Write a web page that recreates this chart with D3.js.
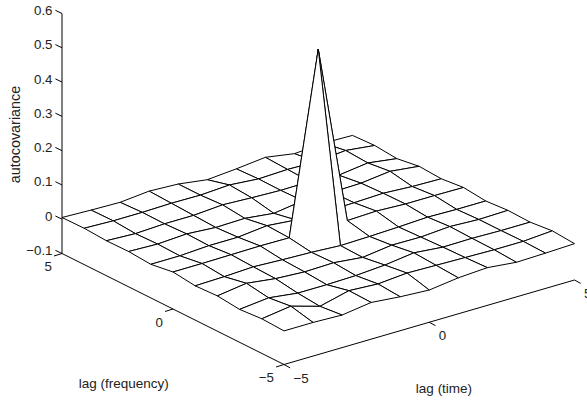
<!DOCTYPE html>
<html>
<head>
<meta charset="utf-8">
<script src="https://cdn.jsdelivr.net/npm/d3@7"></script>
<style>
  html, body { margin: 0; padding: 0; background: #fff; overflow: hidden; }
  text { font-family: "Liberation Sans", Arial, sans-serif; fill: #222; }
</style>
</head>
<body>
<svg id="chart" width="587" height="403"></svg>
<script>
// lags on both ground axes
const lagTime = [-5, -4, -3, -2, -1, 0, 1, 2, 3, 4, 5];
const lagFreq = [-5, -4, -3, -2, -1, 0, 1, 2, 3, 4, 5];

// one row per frequency lag
const covFreqM5 = [-0.002, -0.002, -0.005, 0.007, -0.001, -0.006, 0.005, 0.01, 0.001, 0.003, 0.006];
const covFreqM4 = [0.001, 0.013, -0.012, 0.009, 0.004, 0.011, 0.009, 0.007, 0.005, 0.005, 0.011];
const covFreqM3 = [-0.004, 0.005, -0.006, -0.006, -0.004, 0.002, 0.013, 0.005, 0.006, 0.004, 0.004];
const covFreqM2 = [0.003, 0.015, 0.004, -0.001, 0.001, -0.008, 0.003, 0.002, 0.008, 0.004, 0.006];
const covFreqM1 = [0, 0.002, 0.006, 0.002, -0.001, -0.006, -0.004, -0.001, 0.003, 0.001, 0.001];
const covFreq0 = [0.008, 0.008, 0.009, 0.01, 0.009, 0.535, 0.01, 0.013, 0.009, 0.009, 0.008];
const covFreqP1 = [-0.002, -0.002, 0.003, 0.003, 0.012, 0.004, 0.003, 0.005, 0.008, 0.003, 0.001];
const covFreqP2 = [0.003, 0, 0.005, -0.001, 0.001, -0.009, 0.003, 0.003, 0.005, 0.015, 0.005];
const covFreqP3 = [0.002, -0.002, 0.002, 0.002, 0.008, 0.004, 0.001, 0.002, -0.004, 0.007, -0.005];
const covFreqP4 = [0.006, 0.003, 0.003, 0.005, 0.004, 0.009, 0.002, 0.005, 0.003, 0.011, 0.001];
const covFreqP5 = [0.005, 0.002, 0, 0.008, 0.004, -0.008, -0.001, 0.008, -0.006, 0, -0.002];
const autocov = [covFreqM5, covFreqM4, covFreqM3, covFreqM2, covFreqM1, covFreq0,
                 covFreqP1, covFreqP2, covFreqP3, covFreqP4, covFreqP5];

const zTicks = [-0.1, 0, 0.1, 0.2, 0.3, 0.4, 0.5, 0.6];
const lagTicks = [-5, 0, 5];

const svg = d3.select("#chart");

// oblique view: each data axis contributes its own screen offset
const ORIGIN = [284, 364.5];
const tX = d3.scaleLinear().domain([-5, 5]).range([0, 290.5]);
const tY = d3.scaleLinear().domain([-5, 5]).range([0, -84.5]);
const fX = d3.scaleLinear().domain([-5, 5]).range([0, -222]);
const fY = d3.scaleLinear().domain([-5, 5]).range([0, -111]);
const zY = d3.scaleLinear().domain([-0.1, 0.6]).range([0, -240]);

const project = (f, t, z) => [
  ORIGIN[0] + tX(t) + fX(f),
  ORIGIN[1] + tY(t) + fY(f) + zY(z),
];

const fmt = (v) => String(v).replace("-", "\u2212");

// painter's order: back corner first so white patches hide what is behind
const patches = [];
for (let i = lagFreq.length - 2; i >= 0; i--) {
  for (let j = lagTime.length - 2; j >= 0; j--) {
    patches.push([
      project(lagFreq[i], lagTime[j], autocov[i][j]),
      project(lagFreq[i], lagTime[j + 1], autocov[i][j + 1]),
      project(lagFreq[i + 1], lagTime[j + 1], autocov[i + 1][j + 1]),
      project(lagFreq[i + 1], lagTime[j], autocov[i + 1][j]),
    ]);
  }
}

// Axes
const axes = svg.append("g").attr("stroke", "#000").attr("fill", "none").attr("stroke-width", 1);
const line = d3.line();
axes.append("path")
  .attr("d", line([project(5, -5, -0.1), project(5, -5, 0.6)]));
axes.append("path")
  .attr("d", line([project(5, -5, -0.1), project(-5, -5, -0.1), project(-5, 5, -0.1)]));

// z ticks lean along the frequency axis, ground ticks along the other one
const zTick = [-6.6, -3.2];
const fTick = [-8, 2.5];
const tTick = [6.2, 3.4];

zTicks.forEach((z) => {
  const p = project(5, -5, z);
  axes.append("path")
    .attr("d", line([p, [p[0] + zTick[0], p[1] + zTick[1]]]));
  svg.append("text")
    .attr("x", 52.5).attr("y", p[1] + 1.5)
    .attr("text-anchor", "end").attr("font-size", 13.3)
    .text(fmt(z));
});

lagTicks.forEach((f) => {
  const p = project(f, -5, -0.1);
  axes.append("path")
    .attr("d", line([p, [p[0] + fTick[0], p[1] + fTick[1]]]));
  svg.append("text")
    .attr("x", p[0] - 10).attr("y", p[1] + 17.5)
    .attr("text-anchor", "end").attr("font-size", 13.3)
    .text(fmt(f));
});

lagTicks.forEach((t) => {
  const p = project(-5, t, -0.1);
  axes.append("path")
    .attr("d", line([p, [p[0] + tTick[0], p[1] + tTick[1]]]));
  svg.append("text")
    .attr("x", p[0] + 9.5).attr("y", p[1] + 18)
    .attr("font-size", 13.3)
    .text(fmt(t));
});

// Surface
svg.append("g")
  .selectAll("path")
  .data(patches)
  .join("path")
  .attr("d", (d) => line(d) + "Z")
  .attr("fill", "#fff")
  .attr("stroke", "#000")
  .attr("stroke-width", 1)
  .attr("stroke-linejoin", "miter");

// Labels
svg.append("text")
  .attr("x", 123.7).attr("y", 387.5)
  .attr("text-anchor", "middle").attr("font-size", 13.5)
  .text("lag (frequency)");
svg.append("text")
  .attr("x", 444).attr("y", 393)
  .attr("text-anchor", "middle").attr("font-size", 13.5)
  .text("lag (time)");
svg.append("text")
  .attr("transform", "translate(19.5,134.5) rotate(-90)")
  .attr("text-anchor", "middle").attr("font-size", 14.4)
  .text("autocovariance");
</script>
</body>
</html>
